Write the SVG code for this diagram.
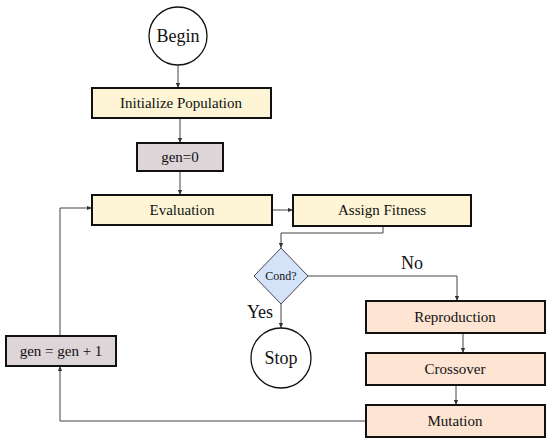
<svg xmlns="http://www.w3.org/2000/svg" width="550" height="443" viewBox="0 0 550 443">
<style>
text{fill:#111;text-anchor:middle;dominant-baseline:central}
.box{stroke:#111;stroke-width:2}
.y{fill:#fdf5d6}.g{fill:#ddd5d8}.o{fill:#fde4d3}.b{fill:#d5e3f8;stroke:#445;stroke-width:1}
.c{fill:#fff;stroke:#111;stroke-width:1.3}
.l{fill:none;stroke:#444;stroke-width:1}
.t{font-size:15px}
</style>
<defs><marker id="a" viewBox="0 0 6 6" refX="6" refY="3" markerWidth="5" markerHeight="5" orient="auto"><path d="M0,0.5 L6,3 L0,5.5z" fill="#333"/></marker></defs>
<g font-family="Liberation Serif, Times New Roman, serif">
<g id="connectors">
<path class="l" d="M178,65 V88" marker-end="url(#a)"/>
<path class="l" d="M180,118 V143" marker-end="url(#a)"/>
<path class="l" d="M180,171 V195" marker-end="url(#a)"/>
<path class="l" d="M272,210 H293" marker-end="url(#a)"/>
<path class="l" d="M383,226 V233 H281 V248" marker-end="url(#a)"/>
<path class="l" d="M308,276 H457 V301" marker-end="url(#a)"/>
<path class="l" d="M281,304 V328" marker-end="url(#a)"/>
<path class="l" d="M463,334 V353" marker-end="url(#a)"/>
<path class="l" d="M456,386 V405" marker-end="url(#a)"/>
<path class="l" d="M366,421 H60 V366" marker-end="url(#a)"/>
<path class="l" d="M60,336 V208 H92" marker-end="url(#a)"/>
<text x="412" y="263" style="font-size:18px">No</text>
<text x="260" y="312" style="font-size:18px">Yes</text>
</g>
<g id="begin"><circle class="c" cx="178" cy="36" r="29"/><text x="178" y="36" style="font-size:18px">Begin</text></g>
<g id="init"><rect class="box y" x="92" y="88" width="179" height="30"/><text class="t" x="181" y="103">Initialize Population</text></g>
<g id="gen0"><rect class="box g" x="137" y="143" width="86" height="28"/><text class="t" x="180" y="157">gen=0</text></g>
<g id="evaluation"><rect class="box y" x="92" y="195" width="180" height="30"/><text class="t" x="182" y="210">Evaluation</text></g>
<g id="assign"><rect class="box y" x="293" y="195" width="178" height="31"/><text class="t" x="382" y="210">Assign Fitness</text></g>
<g id="cond"><path class="b" d="M281,248 L308,276 L281,304 L254,276z"/><text x="281" y="276" style="font-size:12px">Cond?</text></g>
<g id="stop"><circle class="c" cx="281" cy="358" r="30"/><text x="281" y="358" style="font-size:18px">Stop</text></g>
<g id="reproduction"><rect class="box o" x="366" y="301" width="179" height="32"/><text class="t" x="455" y="317">Reproduction</text></g>
<g id="crossover"><rect class="box o" x="366" y="353" width="179" height="32"/><text class="t" x="455" y="369">Crossover</text></g>
<g id="mutation"><rect class="box o" x="366" y="405" width="179" height="32"/><text class="t" x="455" y="421">Mutation</text></g>
<g id="geninc"><rect class="box g" x="6" y="336" width="110" height="30"/><text class="t" x="61" y="351">gen = gen + 1</text></g>
</g>
</svg>
